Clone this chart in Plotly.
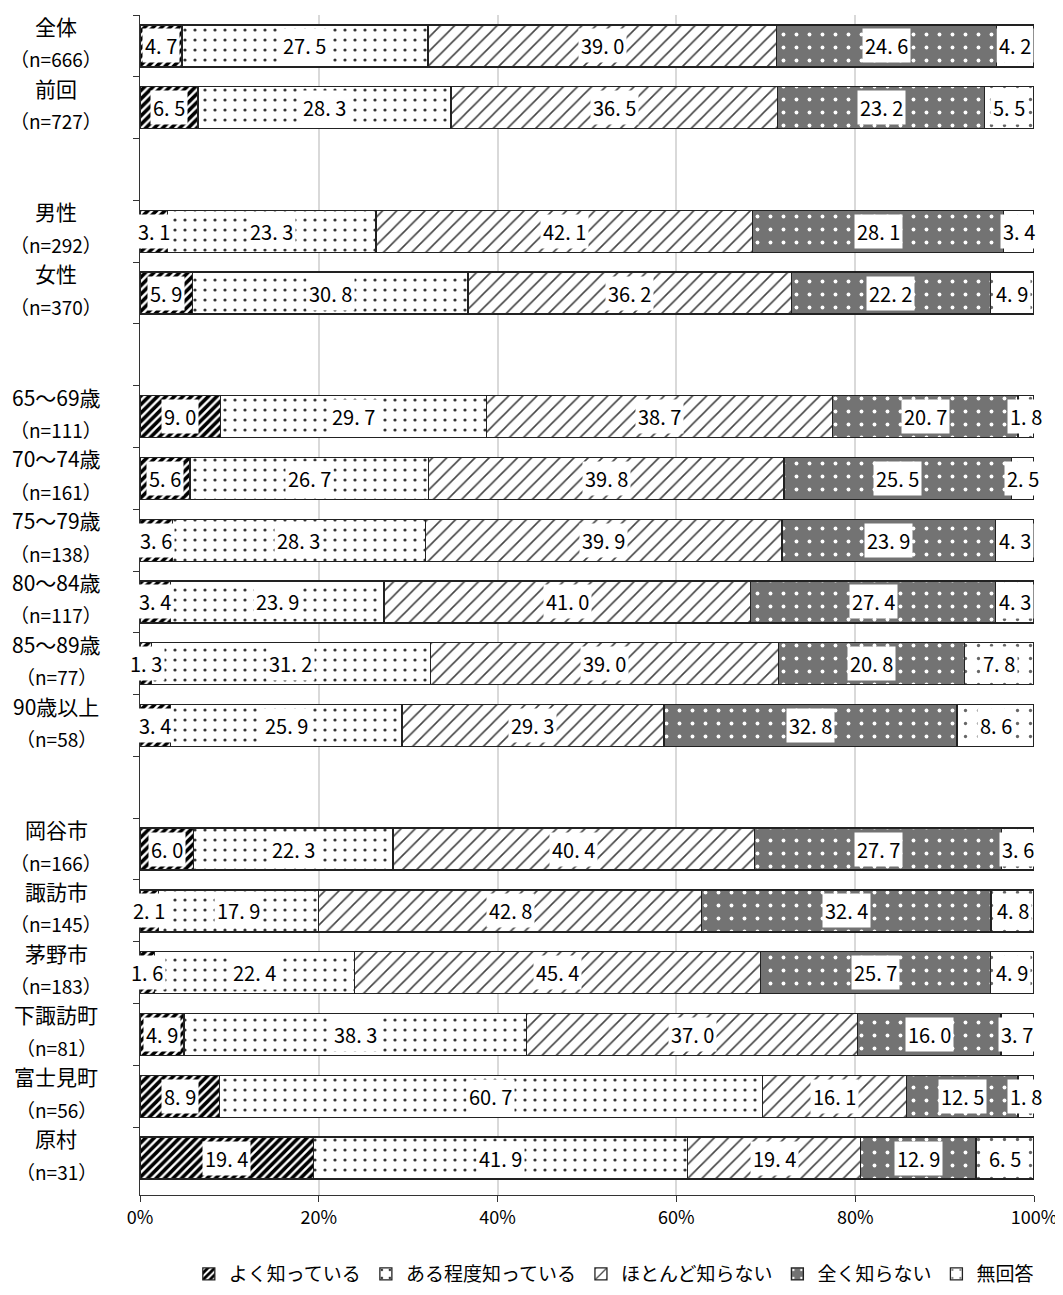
import plotly.graph_objects as go

# ---- data ----
row_ids = ["全体", "前回", " ", "男性", "女性", "  ",
           "65〜69歳", "70〜74歳", "75〜79歳", "80〜84歳", "85〜89歳", "90歳以上", "   ",
           "岡谷市", "諏訪市", "茅野市", "下諏訪町", "富士見町", "原村"]
row_names = ["全体", "前回", "", "男性", "女性", "",
             "65〜69歳", "70〜74歳", "75〜79歳", "80〜84歳", "85〜89歳", "90歳以上", "",
             "岡谷市", "諏訪市", "茅野市", "下諏訪町", "富士見町", "原村"]
row_n = [666, 727, None, 292, 370, None,
         111, 161, 138, 117, 77, 58, None,
         166, 145, 183, 81, 56, 31]

series_names = ["よく知っている", "ある程度知っている", "ほとんど知らない", "全く知らない", "無回答"]
well_known = [4.7, 6.5, None, 3.1, 5.9, None, 9.0, 5.6, 3.6, 3.4, 1.3, 3.4, None, 6.0, 2.1, 1.6, 4.9, 8.9, 19.4]
somewhat = [27.5, 28.3, None, 23.3, 30.8, None, 29.7, 26.7, 28.3, 23.9, 31.2, 25.9, None, 22.3, 17.9, 22.4, 38.3, 60.7, 41.9]
hardly = [39.0, 36.5, None, 42.1, 36.2, None, 38.7, 39.8, 39.9, 41.0, 39.0, 29.3, None, 40.4, 42.8, 45.4, 37.0, 16.1, 19.4]
not_at_all = [24.6, 23.2, None, 28.1, 22.2, None, 20.7, 25.5, 23.9, 27.4, 20.8, 32.8, None, 27.7, 32.4, 25.7, 16.0, 12.5, 12.9]
no_answer = [4.2, 5.5, None, 3.4, 4.9, None, 1.8, 2.5, 4.3, 4.3, 7.8, 8.6, None, 3.6, 4.8, 4.9, 3.7, 1.8, 6.5]

x_tick_vals = [0, 20, 40, 60, 80, 100]
x_tick_text = ["0%", "20%", "40%", "60%", "80%", "100%"]

# ---- styles ----
series_values = [well_known, somewhat, hardly, not_at_all, no_answer]
patterns = [
    dict(shape="/", fgcolor="#000000", bgcolor="white", size=6, solidity=0.6, fgopacity=1),
    dict(shape=".", fgcolor="#333333", bgcolor="white", size=10, solidity=0.08, fgopacity=1),
    dict(shape="/", fgcolor="#444444", bgcolor="white", size=10, solidity=0.16, fgopacity=1),
    dict(shape=".", fgcolor="white", bgcolor="#737373", size=13, solidity=0.07, fgopacity=1),
    dict(shape=".", fgcolor="#666666", bgcolor="white", size=13, solidity=0.05, fgopacity=1),
]

JP = "Noto Sans CJK JP"
fig = go.Figure()
for name, vals, pat in zip(series_names, series_values, patterns):
    fig.add_trace(go.Bar(
        y=row_ids, x=vals, name=name, orientation="h",
        marker=dict(pattern=pat, line=dict(color="#222222", width=1.3)),
        hoverinfo="x+name",
    ))

annotations = []
# data labels with white background
for i, rid in enumerate(row_ids):
    vals = [s[i] for s in series_values]
    if vals[0] is None:
        continue
    total = sum(vals)
    cum = 0.0
    for v in vals:
        center = (cum + v / 2) / total * 100
        cum += v
        annotations.append(dict(
            x=center, y=rid, xref="x", yref="y",
            text=f"{v:.1f}".replace(".", ". "), showarrow=False,
            font=dict(family=JP, size=20, color="black"),
            bgcolor="white", borderpad=2,
        ))

# category labels (two lines)
for rid, nm, n in zip(row_ids, row_names, row_n):
    if n is None:
        continue
    annotations.append(dict(x=0, xref="paper", y=rid, yref="y", text=nm, showarrow=False,
                            xanchor="center", xshift=-84, yshift=20,
                            font=dict(family=JP, size=21, color="black")))
    annotations.append(dict(x=0, xref="paper", y=rid, yref="y", text=f"（n={n}）", showarrow=False,
                            xanchor="center", xshift=-84, yshift=-13,
                            font=dict(family=JP, size=19, color="black")))

# page body adds an 8px offset, so the figure is sized to compensate
fig.update_layout(
    width=1055, height=1287,
    margin=dict(l=132, r=29, t=7, b=100, autoexpand=False),
    barmode="stack", barnorm="percent", bargap=0.32,
    plot_bgcolor="white", paper_bgcolor="white",
    font=dict(family=JP, size=18, color="black"),
    annotations=annotations,
    legend=dict(orientation="h", x=0.53, xanchor="center", y=-0.067, yanchor="middle",
                font=dict(family=JP, size=19), traceorder="normal", itemwidth=30),
    showlegend=True,
)
fig.update_xaxes(range=[0, 100], tickvals=x_tick_vals, ticktext=x_tick_text,
                 showgrid=True, gridcolor="#d9d9d9", gridwidth=1.5,
                 showline=True, linecolor="#333333", linewidth=1.3,
                 ticks="outside", ticklen=6, tickcolor="#333333",
                 tickfont=dict(family=JP, size=18), zeroline=False, fixedrange=True,
                 automargin=False)
fig.update_yaxes(type="category", categoryorder="array", categoryarray=row_ids,
                 autorange="reversed", showticklabels=False, tickson="boundaries",
                 ticks="outside", ticklen=6, tickcolor="#333333",
                 showline=True, linecolor="#333333", linewidth=1.3, showgrid=False,
                 fixedrange=True, automargin=False)

fig.write_html("out.html")
